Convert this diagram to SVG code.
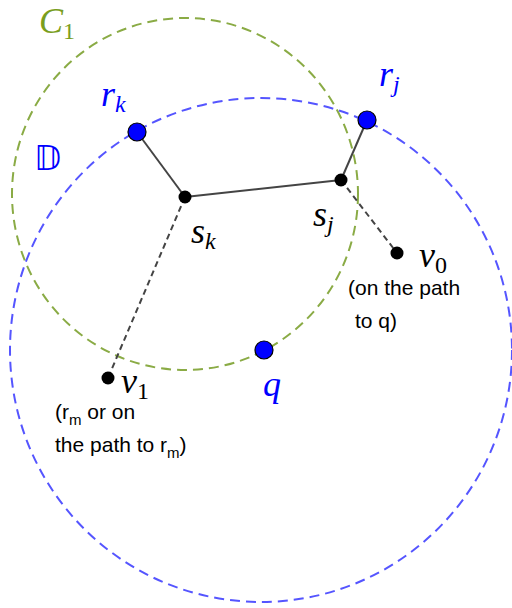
<svg xmlns="http://www.w3.org/2000/svg" width="512" height="608" viewBox="0 0 512 608">
<style>
.math{font-family:"Liberation Serif","DejaVu Serif",serif;font-style:italic;font-size:36px}
.sub{font-size:24px}
.up{font-style:normal}
.note{font-family:"Liberation Sans",Arial,sans-serif;font-size:21px;fill:#000}
.blue{fill:#0000ff}
.bnode{fill:#0000ff;stroke:#000;stroke-width:1.2}
.knode{fill:#000}
.edge{stroke:#444;stroke-width:2;fill:none}
.dedge{stroke:#444;stroke-width:2;fill:none;stroke-dasharray:6,4}
</style>
<rect width="512" height="608" fill="#fff"/>
<g id="circles">
<ellipse id="C1" cx="185" cy="194" rx="173" ry="176" fill="none" stroke="#8aab45" stroke-width="2" stroke-dasharray="10,6"/>
<ellipse id="D" cx="261" cy="350" rx="251" ry="252" fill="none" stroke="#5555ff" stroke-width="2" stroke-dasharray="10,6"/>
</g>
<g id="connectors">
<line class="edge" x1="137" y1="132" x2="185" y2="197"/>
<line class="edge" x1="185" y1="197" x2="341" y2="180"/>
<line class="edge" x1="341" y1="180" x2="367" y2="120"/>
<line class="dedge" x1="341" y1="180" x2="397" y2="253"/>
<line class="dedge" x1="185" y1="197" x2="108" y2="378"/>
</g>
<g id="rk"><circle class="bnode" cx="137" cy="132" r="9"/><text class="math blue" x="101" y="106">r<tspan class="sub" dy="6">k</tspan></text></g>
<g id="rj"><circle class="bnode" cx="367" cy="120" r="9"/><text class="math blue" x="379" y="86">r<tspan class="sub" dy="6">j</tspan></text></g>
<g id="q"><circle class="bnode" cx="264" cy="350" r="9"/><text class="math blue" x="263" y="396">q</text></g>
<g id="sk"><circle class="knode" cx="185" cy="197" r="6.5"/><text class="math" x="191" y="243">s<tspan class="sub" dy="6">k</tspan></text></g>
<g id="sj"><circle class="knode" cx="341" cy="180" r="6.5"/><text class="math" x="313" y="226">s<tspan class="sub" dy="6">j</tspan></text></g>
<g id="v0"><circle class="knode" cx="397" cy="253" r="6.5"/><text class="math" x="419" y="267">v<tspan class="sub up" dy="6">0</tspan></text>
<text class="note" x="348" y="295">(on the path</text><text class="note" x="355" y="328">to q)</text></g>
<g id="v1"><circle class="knode" cx="108" cy="378" r="6.5"/><text class="math" x="121" y="393">v<tspan class="sub up" dy="6">1</tspan></text>
<text class="note" x="55" y="419">(r<tspan font-size="15" dy="6">m</tspan><tspan dy="-6"> or on</tspan></text>
<text class="note" x="55" y="452">the path to r<tspan font-size="15" dy="6">m</tspan><tspan dy="-6">)</tspan></text></g>
<g id="labels">
<text class="math" x="39" y="33" fill="#7a9e1e">C<tspan class="sub up" dy="6">1</tspan></text>
<text x="34" y="170" font-family="DejaVu Sans,sans-serif" font-size="33" fill="#0000ff">𝔻</text>
</g>
</svg>
